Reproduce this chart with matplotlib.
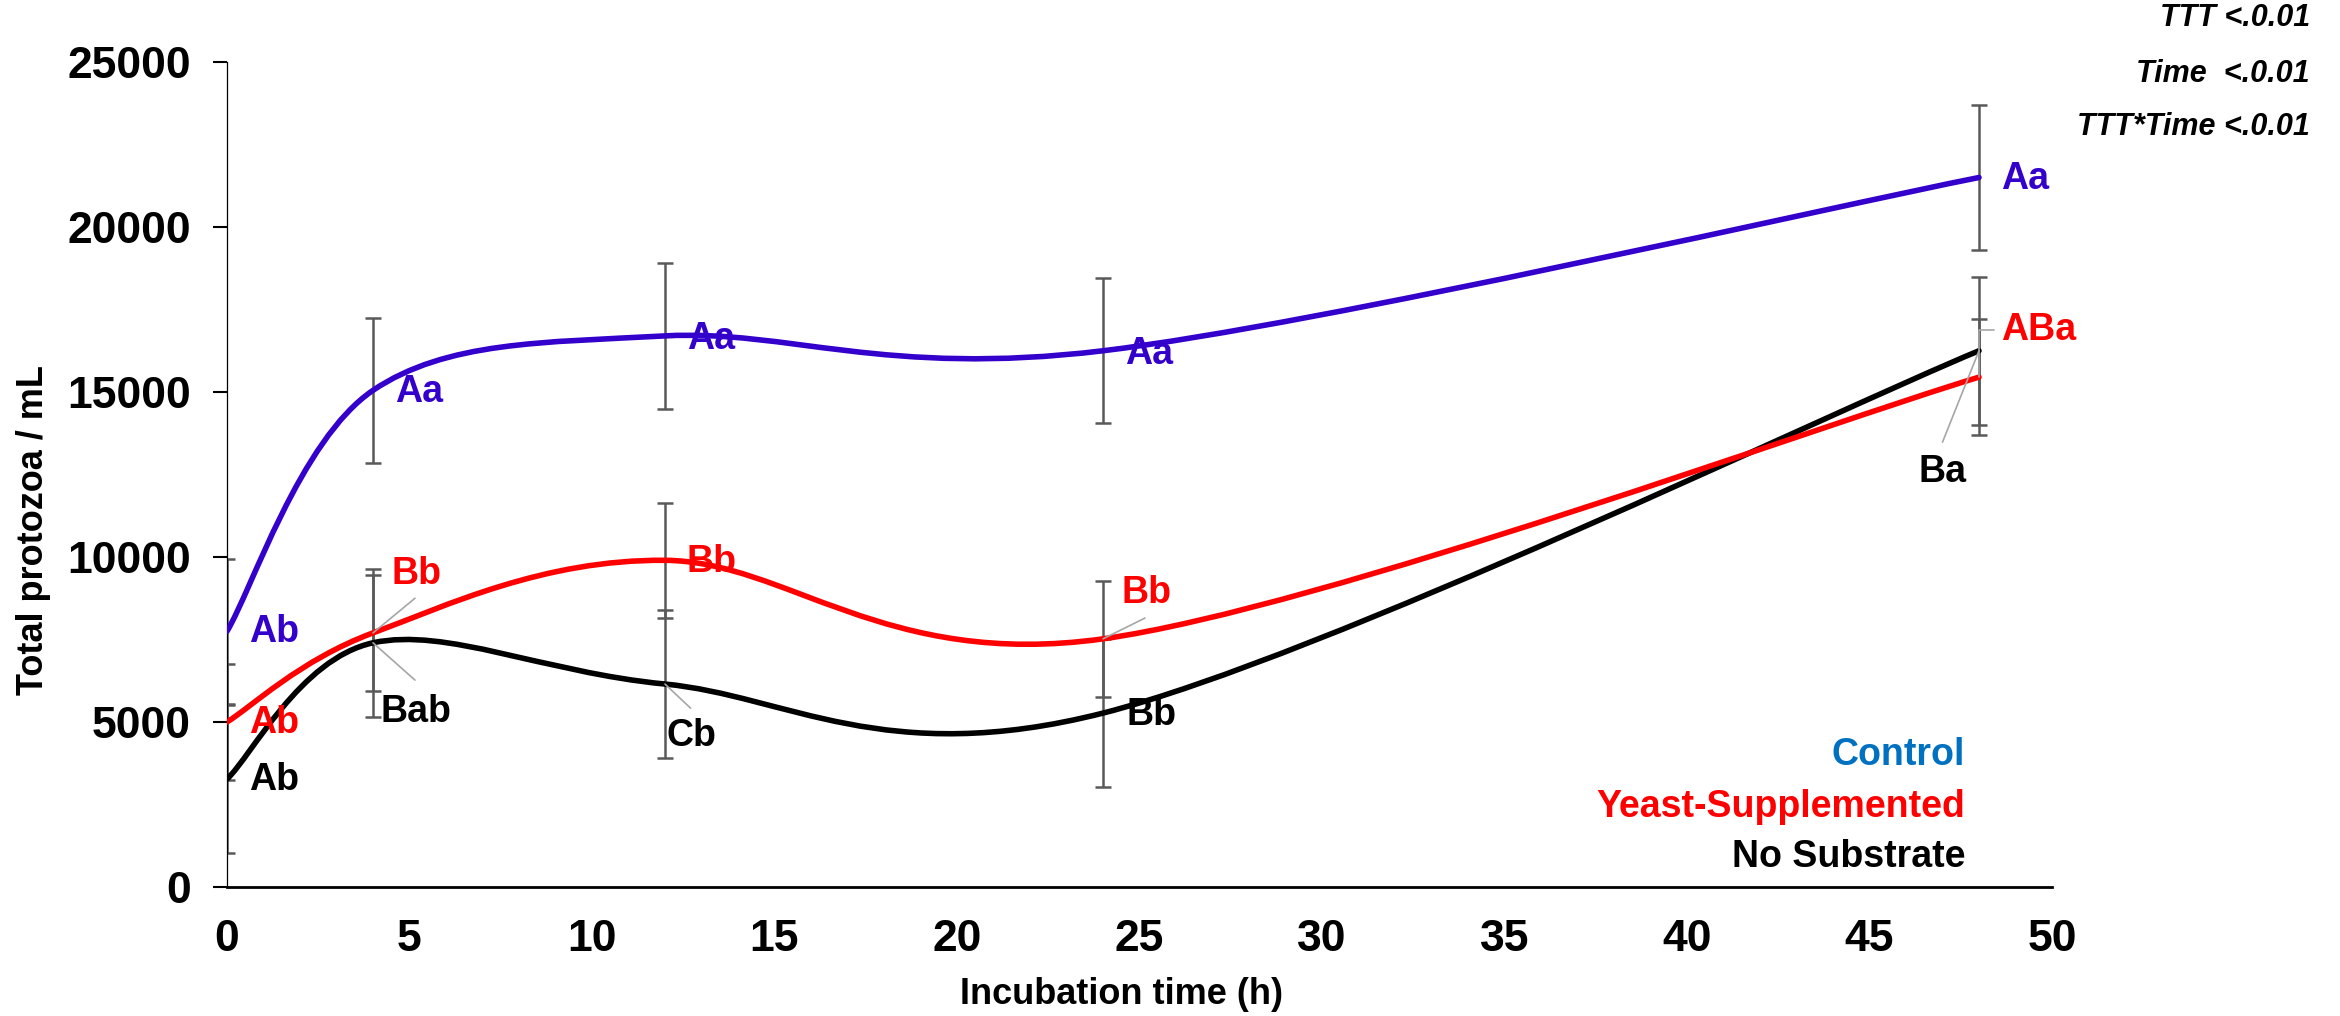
import numpy as np
import matplotlib
matplotlib.use("Agg")
import matplotlib.pyplot as plt
from matplotlib.path import Path
from matplotlib.patches import PathPatch

plt.rcParams['font.family'] = ['Liberation Sans', 'DejaVu Sans']
plt.rcParams['font.weight'] = 'bold'

# data
time = [0, 4, 12, 24, 48]
control = [7750, 15050, 16700, 16250, 21500]
control_err = [2200, 2200, 2200, 2200, 2200]
yeast = [5000, 7700, 9900, 7520, 15450]
yeast_err = [1750, 1750, 1750, 1750, 1750]
nosub = [3270, 7400, 6150, 5270, 16250]
nosub_err = [2250, 2250, 2250, 2250, 2250]

control_lbl = ['Ab', 'Aa', 'Aa', 'Aa', 'Aa']
yeast_lbl = ['Ab', 'Bb', 'Bb', 'Bb', 'ABa']
nosub_lbl = ['Ab', 'Bab', 'Cb', 'Bb', 'Ba']

stats = ['TTT <.0.01', 'Time  <.0.01', 'TTT*Time <.0.01']
legend_names = ['Control', 'Yeast-Supplemented', 'No Substrate']

yticks = [0, 5000, 10000, 15000, 20000, 25000]
xticks = [0, 5, 10, 15, 20, 25, 30, 35, 40, 45, 50]

# label placement (layout)
control_pos = [(0.6, 7730), (4.6, 15000), (12.6, 16600), (24.6, 16150), (48.6, 21450)]
yeast_pos = [(0.6, 4970), (4.5, 9480), (12.6, 9850), (24.5, 8900), (48.6, 16880)]
nosub_pos = [(0.6, 3240), (4.2, 5300), (12.05, 4580), (24.65, 5200), (46.35, 12580)]
yeast_lead = [None, (5.15, 8750), None, (25.15, 8150), (48.4, 16880)]
nosub_lead = [None, (5.15, 6270), (12.7, 5420), None, (47.0, 13480)]

BLUE = '#3300CC'
RED = '#FF0000'
BLACK = '#000000'


def smooth_path(xs, ys):
    # excel-like smoothed line: bezier segments with catmull-rom control points
    pts = np.column_stack([xs, ys]).astype(float)
    n = len(pts)
    verts = [pts[0]]
    codes = [Path.MOVETO]
    for i in range(n - 1):
        p0 = pts[max(i - 1, 0)]
        p1 = pts[i]
        p2 = pts[i + 1]
        p3 = pts[min(i + 2, n - 1)]
        c1 = p1 + (p2 - p0) / 6.0
        c2 = p2 - (p3 - p1) / 6.0
        verts += [c1, c2, p2]
        codes += [Path.CURVE4] * 3
    return Path(verts, codes)


fig = plt.figure(figsize=(23.4, 10.16), dpi=100)
ax = fig.add_axes([227 / 2340, 129 / 1016, 1825 / 2340, 825 / 1016])

for vals, err in [(control, control_err), (yeast, yeast_err), (nosub, nosub_err)]:
    ax.errorbar(time, vals, yerr=err, fmt='none', ecolor='#595959',
                elinewidth=1.8, capsize=6, capthick=1.8, zorder=2)

for vals, col in [(nosub, BLACK), (yeast, RED), (control, BLUE)]:
    ax.add_patch(PathPatch(smooth_path(time, vals), fill=False, edgecolor=col,
                           lw=4.0, capstyle='round', zorder=3))

# leader lines
for vals, leads in [(yeast, yeast_lead), (nosub, nosub_lead)]:
    for x, y, ld in zip(time, vals, leads):
        if ld is None:
            continue
        cs = 'angle,angleA=0,angleB=90,rad=0' if x == 48 and ld[0] > x else 'arc3'
        ax.annotate('', xy=(x, y), xytext=ld,
                    arrowprops=dict(arrowstyle='-', color='#A6A6A6', lw=1.2,
                                    shrinkA=0, shrinkB=0, connectionstyle=cs),
                    zorder=4)

for lbls, pos, col in [(control_lbl, control_pos, BLUE), (yeast_lbl, yeast_pos, RED),
                       (nosub_lbl, nosub_pos, BLACK)]:
    for t, (px, py) in zip(lbls, pos):
        ax.text(px, py, t, color=col, fontsize=27, fontweight='bold',
                ha='left', va='center', zorder=5)

ax.set_xlim(0, 50)
ax.set_ylim(0, 25000)
ax.set_xticks(xticks)
ax.set_yticks(yticks)
ax.tick_params(axis='x', length=0, pad=23, labelsize=32)
ax.tick_params(axis='y', length=10, width=1.5, pad=16, labelsize=32, direction='out')
for lab in ax.get_xticklabels() + ax.get_yticklabels():
    lab.set_fontweight('bold')

for s in ['top', 'right']:
    ax.spines[s].set_visible(False)
ax.spines['left'].set_linewidth(0.9)
ax.spines['bottom'].set_linewidth(2)

fig.text(1122 / 2340, 1 - 994 / 1016, 'Incubation time (h)', fontsize=26,
         fontweight='bold', ha='center', va='center')
fig.text(34 / 2340, 1 - 530 / 1016, 'Total protozoa / mL', fontsize=26,
         fontweight='bold', ha='center', va='center', rotation=90)

# legend as coloured text
for name, col, yy in zip(legend_names, ['#0070C0', RED, BLACK], [755, 807, 857]):
    fig.text(1965 / 2340, 1 - yy / 1016, name, color=col, fontsize=27,
             fontweight='bold', ha='right', va='center')

for s, yy in zip(stats, [18, 74, 127]):
    fig.text(2310 / 2340, 1 - yy / 1016, s, fontsize=22, fontweight='bold',
             style='italic', ha='right', va='center')

fig.savefig('out.png', dpi=100)
